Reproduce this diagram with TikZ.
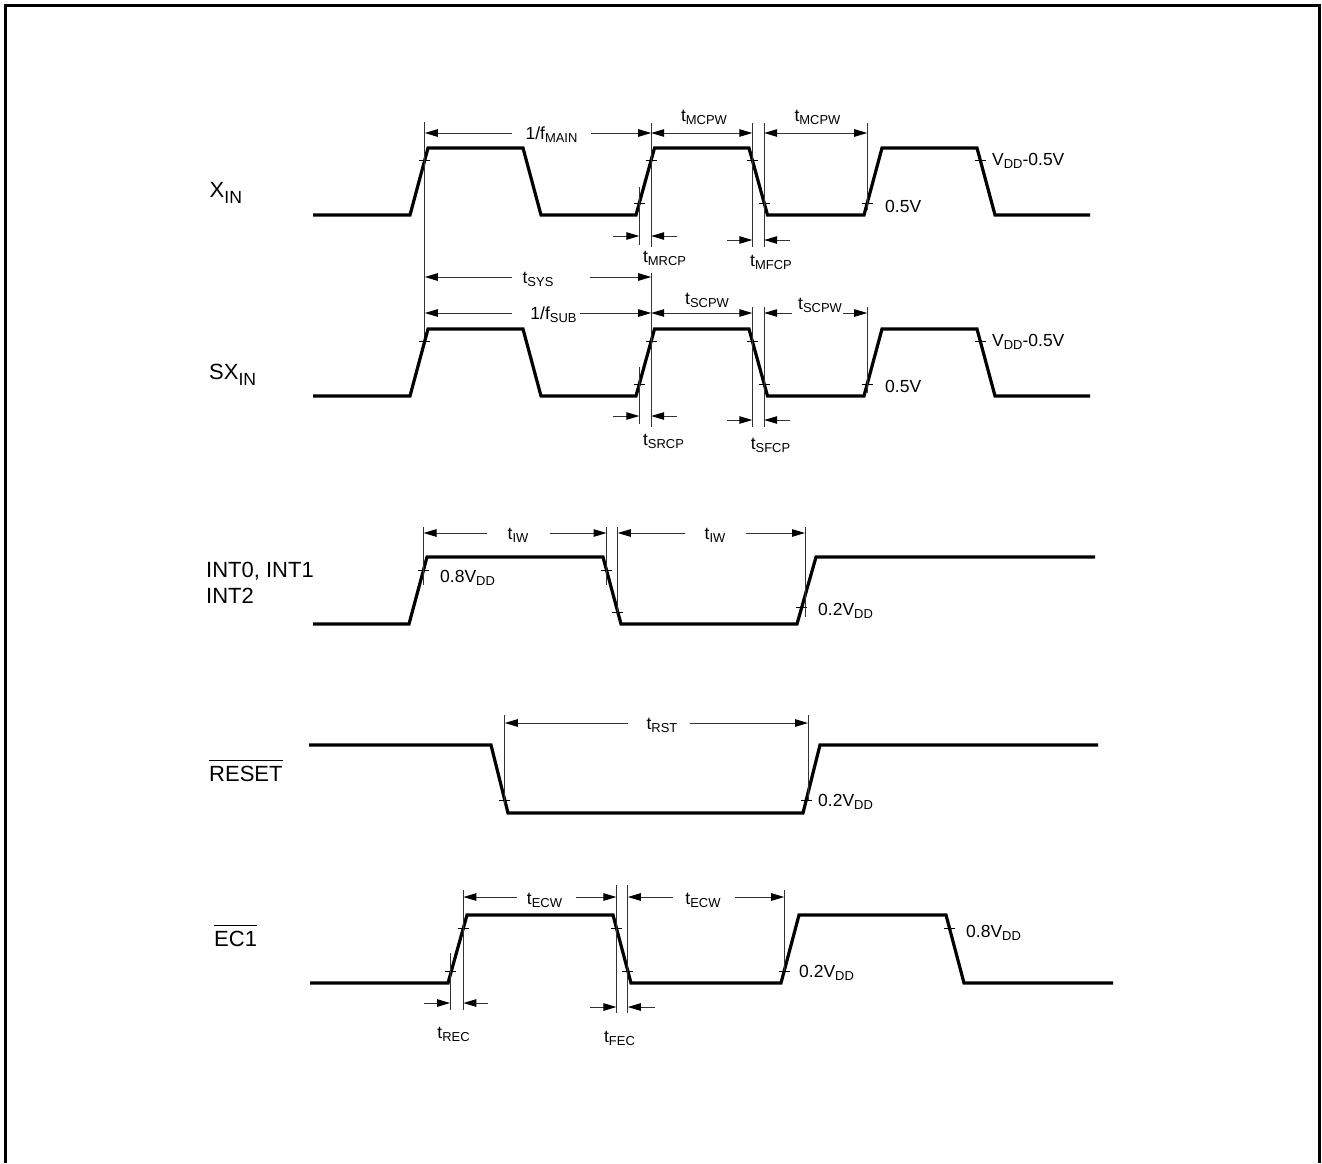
\documentclass[tikz,border=0pt]{standalone}
\usepackage{fontspec}
\setmainfont{Liberation Sans}
\usetikzlibrary{arrows.meta}
\newcommand\sbs[1]{\raisebox{-0.18em}{\scalebox{0.74}{#1}}}
\newcommand\ssig[1]{\raisebox{-0.3em}{\scalebox{0.8}{#1}}}
\tikzset{
 wave/.style={line width=3.2pt, line join=miter, black},
 dim/.style={line width=1pt, black!80},
 tip/.style={dim, -{Triangle[length=13pt,width=7.5pt,color=black]}},
 tipb/.style={dim, {Triangle[length=13pt,width=7.5pt,color=black]}-{Triangle[length=13pt,width=7.5pt,color=black]}},
 tickl/.style={line width=1pt, black},
 ann/.style={font=\fontsize{17.5}{20}\selectfont, inner sep=0pt},
 sig/.style={font=\fontsize{22}{26}\selectfont, inner sep=0pt, anchor=base west},
 frame/.style={line width=3pt, line join=miter},
}
\newcommand\tk[2]{\draw[tickl] ({#1-5.5},#2) -- ({#1+5.5},#2);}
\newcommand\vl[3]{\draw[dim] (#1,#2) -- (#1,#3);}
\newcommand\ar[3]{\draw[tip] (#1,#3) -- (#2,#3);}
\begin{document}
\begin{tikzpicture}[x=1pt,y=-1pt]
\useasboundingbox (0,0) rectangle (1322,1163);
\draw[frame] (5.3,1163) -- (5.3,5.3) -- (1319.7,5.3) -- (1319.7,1163);

% ---------- XIN ----------
\node[sig] (xin) at (209.5,197) {X\ssig{IN}};
\draw[wave] (313,215) -- (410,215) -- (428,148) -- (523,148) -- (541,215) -- (636,215) -- (654.5,148) -- (749,148) -- (767.5,215) -- (864,215) -- (882,148) -- (977,148) -- (995,215) -- (1090,215);
\tk{424.8}{160} \tk{639.3}{203} \tk{651.2}{160} \tk{752.3}{160} \tk{764.2}{203} \tk{867.2}{203} \tk{980.2}{160}
\vl{424.8}{122}{343} \vl{639.3}{187}{245} \vl{651.2}{123}{247} \vl{752.3}{123}{247} \vl{764.2}{123}{247} \vl{867.2}{123}{210}
\ar{512}{424.8}{133} \ar{591}{651.2}{133}
\draw[tipb] (651.2,133) -- (752.3,133);
\draw[tipb] (764.2,133) -- (867.2,133);
\ar{613}{639.3}{236} \ar{677}{651.2}{236}
\ar{727}{752.3}{240} \ar{790}{764.2}{240}
\node[ann,anchor=base] (fmain) at (551.5,139) {1/f\sbs{MAIN}};
\node[ann,anchor=base] (mcpw1) at (704,121) {t\sbs{MCPW}};
\node[ann,anchor=base] (mcpw2) at (817.5,121) {t\sbs{MCPW}};
\node[ann,anchor=base] (mrcp) at (664.5,262) {t\sbs{MRCP}};
\node[ann,anchor=base] (mfcp) at (771,266) {t\sbs{MFCP}};
\node[ann,anchor=base west] (xvh) at (992,165) {V\sbs{DD}-0.5V};
\node[ann,anchor=base west] (xvl) at (885,212) {0.5V};

% ---------- SXIN ----------
\node[sig] (sxin) at (209,379) {SX\ssig{IN}};
\draw[wave] (313,396) -- (410,396) -- (428,329) -- (523,329) -- (541,396) -- (636,396) -- (654.5,329) -- (749,329) -- (767.5,396) -- (864,396) -- (882,329) -- (977,329) -- (995,396) -- (1090,396);
\tk{424.8}{341} \tk{639.3}{384} \tk{651.2}{341} \tk{752.3}{341} \tk{764.2}{384} \tk{867.2}{384} \tk{980.2}{341}
\vl{639.3}{367}{424} \vl{651.2}{273}{427} \vl{752.3}{307}{427} \vl{764.2}{307}{427} \vl{867.2}{307}{393}
\ar{512}{424.8}{277} \ar{590}{651.2}{277}
\ar{512}{424.8}{313} \ar{580}{651.2}{313}
\draw[tipb] (651.2,313) -- (752.3,313);
\ar{792}{764.2}{313} \ar{843}{867.2}{313}
\ar{613}{639.3}{416} \ar{677}{651.2}{416}
\ar{727}{752.3}{420} \ar{790}{764.2}{420}
\node[ann,anchor=base] (tsys) at (538,283) {t\sbs{SYS}};
\node[ann,anchor=base] (fsub) at (553.5,319) {1/f\sbs{SUB}};
\node[ann,anchor=base] (scpw1) at (707,304) {t\sbs{SCPW}};
\node[ann,anchor=base] (scpw2) at (820,309) {t\sbs{SCPW}};
\node[ann,anchor=base] (srcp) at (663.5,445) {t\sbs{SRCP}};
\node[ann,anchor=base] (sfcp) at (770.5,449) {t\sbs{SFCP}};
\node[ann,anchor=base west] (svh) at (992,346) {V\sbs{DD}-0.5V};
\node[ann,anchor=base west] (svl) at (885,392) {0.5V};

% ---------- INT ----------
\node[sig] (int1) at (206,577) {INT0, INT1};
\node[sig] (int2) at (206,603) {INT2};
\draw[wave] (313,624) -- (409,624) -- (427,557) -- (603,557) -- (621,624) -- (797,624) -- (816,557) -- (1095,557);
\tk{423.5}{570} \tk{606.5}{570} \tk{617.8}{612} \tk{801.8}{607}
\vl{423.5}{527}{585} \vl{606.5}{527}{585} \vl{617.8}{527}{613} \vl{805}{527}{617}
\ar{487}{423.5}{533} \ar{550}{606.5}{533} \ar{685}{617.8}{533} \ar{746}{805}{533}
\node[ann,anchor=base] (iw1) at (518,539) {t\sbs{IW}};
\node[ann,anchor=base] (iw2) at (715,539) {t\sbs{IW}};
\node[ann,anchor=base west] (ivh) at (440,582) {0.8V\sbs{DD}};
\node[ann,anchor=base west] (ivl) at (818,615) {0.2V\sbs{DD}};

% ---------- RESET ----------
\node[sig] (rst) at (209,781) {RESET};
\draw[line width=1.6pt] ([yshift=5pt]rst.north west) -- ([yshift=5pt]rst.north east);
\draw[wave] (309,745) -- (491,745) -- (508,813) -- (803,813) -- (820,745) -- (1098,745);
\tk{504.8}{800} \tk{806.3}{800}
\vl{504.8}{715}{805} \vl{808}{715}{800}
\ar{628}{504.8}{723} \ar{690}{808}{723}
\node[ann,anchor=base] (trst) at (662,729) {t\sbs{RST}};
\node[ann,anchor=base west] (rvl) at (818,806) {0.2V\sbs{DD}};

% ---------- EC1 ----------
\node[sig] (ec) at (214,946) {EC1};
\draw[line width=1.6pt] ([yshift=5pt]ec.north west) -- ([yshift=5pt]ec.north east);
\draw[wave] (310,983) -- (448,983) -- (467,915) -- (613,915) -- (631,983) -- (781,983) -- (799,915) -- (946,915) -- (964,983) -- (1113,983);
\tk{450.1}{971} \tk{463.4}{928} \tk{616.4}{928} \tk{627.8}{971} \tk{784.2}{971} \tk{949.4}{928}
\vl{450.1}{953}{1010} \vl{463.4}{890}{1010} \vl{616.4}{885}{1013} \vl{627.8}{885}{1013} \vl{784.2}{890}{971}
\ar{517}{463.4}{897} \ar{576}{616.4}{897} \ar{673}{627.8}{897} \ar{735}{784.2}{897}
\ar{424}{450.1}{1003} \ar{488}{463.4}{1003}
\ar{590}{616.4}{1007} \ar{655}{627.8}{1007}
\node[ann,anchor=base] (ecw1) at (544.5,904) {t\sbs{ECW}};
\node[ann,anchor=base] (ecw2) at (703,904) {t\sbs{ECW}};
\node[ann,anchor=base] (trec) at (453.5,1038) {t\sbs{REC}};
\node[ann,anchor=base] (tfec) at (619.5,1042) {t\sbs{FEC}};
\node[ann,anchor=base west] (evh) at (966,937) {0.8V\sbs{DD}};
\node[ann,anchor=base west] (evl) at (799,977) {0.2V\sbs{DD}};
\end{tikzpicture}
\end{document}
